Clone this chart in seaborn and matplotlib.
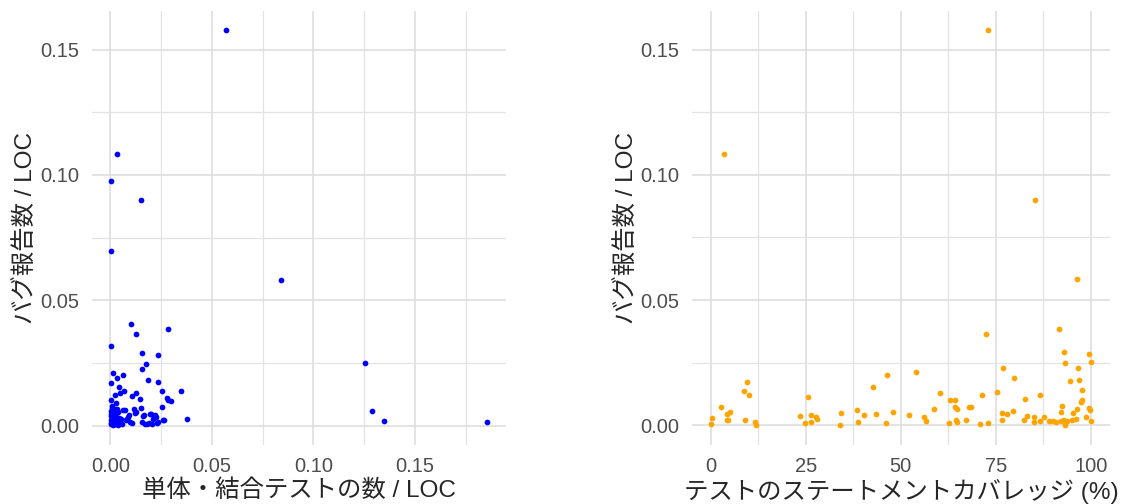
"""Bug reports per LOC vs. test density and statement coverage (two scatter panels)."""

import matplotlib

matplotlib.use("Agg")
import matplotlib.pyplot as plt
import numpy as np
import seaborn as sns
from matplotlib.ticker import MultipleLocator

# --- left panel: unit/integration tests per LOC vs bug reports per LOC ---
tests_per_loc = [
    0.0570, 0.0032, 0.0004, 0.0151, 0.0004, 0.0840, 0.0102, 0.0125, 0.0282, 0.0004,
    0.0158, 0.0235, 0.1253, 0.0174, 0.0154, 0.0012, 0.0061, 0.0035, 0.0005, 0.0183,
    0.0235, 0.0044, 0.0254, 0.0347, 0.0067, 0.0049, 0.0025, 0.0126, 0.0109, 0.0144,
    0.0005, 0.0277, 0.0284, 0.0298, 0.0030, 0.0254, 0.0153, 0.1288, 0.0114, 0.0070,
    0.0126, 0.0167, 0.0198, 0.0093, 0.0223, 0.0377, 0.0265, 0.1347, 0.1854, 0.0237,
    0.0170, 0.0105, 0.0207, 0.0154, 0.0075, 0.0088, 0.0060, 0.0121, 0.0162, 0.0195,
    0.0211, 0.0096, 0.0228, 0.0080, 0.0179, 0.0192, 0.0220, 0.0258,
    0.0002, 0.0005, 0.0010, 0.0003, 0.0015, 0.0020, 0.0008, 0.0030, 0.0025, 0.0040,
    0.0012, 0.0005, 0.0035, 0.0018, 0.0050, 0.0045, 0.0007, 0.0028, 0.0022, 0.0001,
    0.0038, 0.0013, 0.0055, 0.0009, 0.0032, 0.0016, 0.0003, 0.0042, 0.0026, 0.0006,
]
bugs_left = [
    0.1577, 0.1085, 0.0977, 0.0899, 0.0697, 0.0583, 0.0405, 0.0365, 0.0385, 0.0319,
    0.0292, 0.0283, 0.0252, 0.0247, 0.0228, 0.0212, 0.0203, 0.0191, 0.0171, 0.0181,
    0.0175, 0.0153, 0.0137, 0.0140, 0.0139, 0.0132, 0.0121, 0.0131, 0.0119, 0.0105,
    0.0101, 0.0112, 0.0101, 0.0099, 0.0091, 0.0075, 0.0071, 0.0057, 0.0065, 0.0061,
    0.0055, 0.0044, 0.0045, 0.0043, 0.0035, 0.0025, 0.0021, 0.0017, 0.0013, 0.0013,
    0.0008, 0.0011, 0.0008, 0.0015, 0.0024, 0.0035, 0.0064, 0.0050, 0.0037, 0.0045,
    0.0028, 0.0014, 0.0010, 0.0028, 0.0008, 0.0010, 0.0041, 0.0021,
    0.0005, 0.0012, 0.0030, 0.0060, 0.0045, 0.0008, 0.0072, 0.0035, 0.0018, 0.0055,
    0.0002, 0.0040, 0.0010, 0.0065, 0.0025, 0.0015, 0.0080, 0.0050, 0.0038, 0.0022,
    0.0003, 0.0058, 0.0008, 0.0028, 0.0068, 0.0012, 0.0048, 0.0032, 0.0006, 0.0016,
]

# --- right panel: statement coverage (%) vs bug reports per LOC ---
coverage = [
    72.9, 3.4, 85.2, 96.3, 72.5, 91.6, 92.9, 99.6, 93.2, 100.0,
    76.8, 53.9, 46.4, 96.5, 79.8, 9.7, 94.4, 96.9, 42.8, 8.7,
    97.6, 10.0, 60.4, 75.2, 71.4, 25.6, 86.5, 82.7, 62.9, 64.3,
    97.6, 97.3, 92.4, 2.8, 64.3, 64.9, 67.9, 68.4, 58.8, 38.5,
    96.4, 99.6, 99.7, 79.6, 5.0, 47.9, 34.3, 43.4, 40.4, 76.7,
    78.0, 92.2, 95.4, 4.2, 52.2, 0.5, 23.5, 26.3, 27.8, 28.0,
    56.2, 56.5, 83.3, 84.9, 87.6, 96.0, 95.1, 98.8, 4.3, 4.6,
    9.1, 67.2, 64.4, 64.7, 76.7, 82.3, 86.5, 89.0, 90.1, 90.9,
    92.2, 92.8, 93.6, 93.3, 93.1, 100.0, 0.1, 11.6, 12.0, 24.9,
    26.3, 33.9, 38.7, 46.1, 62.6, 70.8, 72.8, 85.0,
]
bugs_right = [
    0.1577, 0.1085, 0.0899, 0.0583, 0.0365, 0.0385, 0.0292, 0.0283, 0.0248, 0.0252,
    0.0228, 0.0212, 0.0199, 0.0229, 0.0188, 0.0172, 0.0176, 0.0181, 0.0153, 0.0136,
    0.0140, 0.0120, 0.0128, 0.0132, 0.0121, 0.0112, 0.0119, 0.0105, 0.0099, 0.0100,
    0.0101, 0.0092, 0.0075, 0.0071, 0.0071, 0.0064, 0.0072, 0.0072, 0.0064, 0.0061,
    0.0065, 0.0067, 0.0060, 0.0056, 0.0052, 0.0052, 0.0047, 0.0045, 0.0041, 0.0047,
    0.0044, 0.0052, 0.0047, 0.0043, 0.0040, 0.0029, 0.0036, 0.0039, 0.0032, 0.0024,
    0.0032, 0.0016, 0.0035, 0.0031, 0.0031, 0.0024, 0.0019, 0.0033, 0.0019, 0.0021,
    0.0021, 0.0019, 0.0019, 0.0013, 0.0020, 0.0019, 0.0016, 0.0015, 0.0015, 0.0011,
    0.0017, 0.0019, 0.0015, 0.0008, 0.0001, 0.0015, 0.0003, 0.0011, 0.0001, 0.0008,
    0.0013, 0.0000, 0.0011, 0.0007, 0.0008, 0.0003, 0.0008, 0.0011,
]

Y_LABEL = "バグ報告数 / LOC"
FONTS = ["Liberation Sans", "Noto Sans CJK JP", "DejaVu Sans"]

sns.set_style("white")
plt.rcParams["font.family"] = FONTS


def expanded(values, frac=0.05):
    """ggplot-style continuous scale expansion."""
    lo, hi = min(values), max(values)
    pad = (hi - lo) * frac
    return lo - pad, hi + pad


def style_panel(ax, xmajor, ymajor=0.05):
    ax.xaxis.set_major_locator(MultipleLocator(xmajor))
    ax.xaxis.set_minor_locator(MultipleLocator(xmajor / 2))
    ax.yaxis.set_major_locator(MultipleLocator(ymajor))
    ax.yaxis.set_minor_locator(MultipleLocator(ymajor / 2))
    ax.grid(which="major", color="#DEDEDE", linewidth=1.2)
    ax.grid(which="minor", color="#E3E3E3", linewidth=0.9)
    ax.set_axisbelow(True)
    for side in ax.spines.values():
        side.set_visible(False)
    ax.tick_params(which="both", length=0, labelsize=14.5, labelcolor="#4D4D4D")
    ax.tick_params(axis="x", pad=9)
    ax.tick_params(axis="y", pad=9)


fig = plt.figure(figsize=(11.27, 5.04), dpi=100)
ax1 = fig.add_axes([0.0814, 0.1171, 0.3673, 0.862])
ax2 = fig.add_axes([0.614, 0.1171, 0.3709, 0.862])

sns.scatterplot(x=tests_per_loc, y=bugs_left, ax=ax1, color="#0000FF",
                s=17, linewidth=0)
ax1.set_xlim(*expanded(tests_per_loc))
ax1.set_ylim(*expanded(bugs_left))
style_panel(ax1, 0.05)
ax1.xaxis.set_major_formatter(lambda v, _: f"{v:.2f}")
ax1.yaxis.set_major_formatter(lambda v, _: f"{v:.2f}")
ax1.set_xlabel("単体・結合テストの数 / LOC", fontsize=17.6, labelpad=2)
ax1.set_ylabel(Y_LABEL, fontsize=17.6, labelpad=2)

sns.scatterplot(x=coverage, y=bugs_right, ax=ax2, color="#FFA500",
                s=17, linewidth=0)
ax2.set_xlim(*expanded(coverage))
ax2.set_ylim(*expanded(bugs_right))
style_panel(ax2, 25)
ax2.xaxis.set_major_formatter(lambda v, _: f"{v:.0f}")
ax2.yaxis.set_major_formatter(lambda v, _: f"{v:.2f}")
ax2.set_xlabel("テストのステートメントカバレッジ (%)", fontsize=17.6, labelpad=2)
ax2.set_ylabel(Y_LABEL, fontsize=17.6, labelpad=2)

fig.savefig("out.png", dpi=100, facecolor="white")
plt.close(fig)
